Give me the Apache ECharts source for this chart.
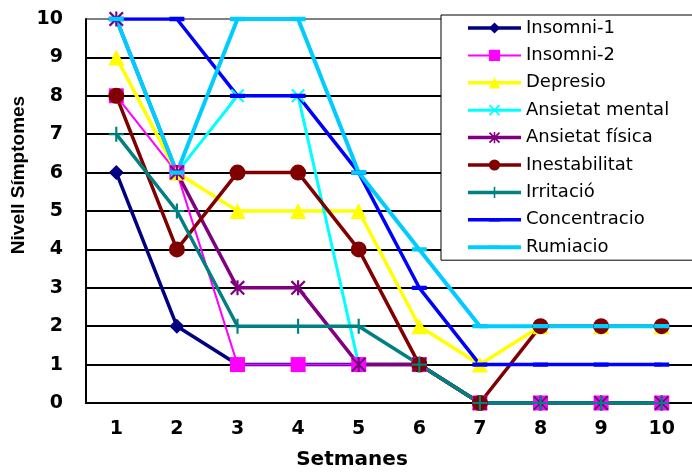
<!DOCTYPE html>
<html>
<head>
<meta charset="utf-8">
<title>Nivell Símptomes</title>
<script src="https://cdn.jsdelivr.net/npm/echarts@6/dist/echarts.min.js"></script>
<style>
  html, body { margin: 0; padding: 0; background: #fff; }
  #chart { width: 692px; height: 474px; }
</style>
</head>
<body>
<div id="chart"></div>
<script>
// Weekly symptom levels (0-10) per symptom
const weeks = ['1', '2', '3', '4', '5', '6', '7', '8', '9', '10'];
const yTicks = [0, 1, 2, 3, 4, 5, 6, 7, 8, 9, 10];

const insomni1       = [6, 2, 1, 1, 1, 1, 0, 0, 0, 0];
const insomni2       = [8, 6, 1, 1, 1, 1, 0, 0, 0, 0];
const depresio       = [9, 6, 5, 5, 5, 2, 1, 2, 2, 2];
const ansietatMental = [10, 6, 8, 8, 1, 1, 0, 0, 0, 0];
const ansietatFisica = [10, 6, 3, 3, 1, 1, 0, 0, 0, 0];
const inestabilitat  = [8, 4, 6, 6, 4, 1, 0, 2, 2, 2];
const irritacio      = [7, 5, 2, 2, 2, 1, 0, 0, 0, 0];
const concentracio   = [10, 10, 8, 8, 6, 3, 1, 1, 1, 1];
const rumiacio       = [10, 6, 10, 10, 6, 4, 2, 2, 2, 2];

// Marker shapes drawn as filled paths (14x14 box)
const MARK_X = 'path://M0,1.5L1.5,0L14,12.5L12.5,14Z M12.5,0L14,1.5L1.5,14L0,12.5Z';
const MARK_STAR = 'path://M0,1.5L1.5,0L14,12.5L12.5,14Z M12.5,0L14,1.5L1.5,14L0,12.5Z M6,0L8,0L8,14L6,14Z';
const MARK_PLUS = 'path://M6,0H8V6H14V8H8V14H6V8H0V6H6Z';
// Short horizontal dash; the zero-area first subpath keeps a square bounding box
const MARK_DASH = 'path://M0,0L0,14L0,0Z M0,5H14V9H0Z';

const chart = echarts.init(document.getElementById('chart'), null, { renderer: 'canvas' });

const seriesList = [];
const legendItems = [];

function addSeries(name, data, color, symbol, size, width) {
  seriesList.push({
    name: name,
    type: 'line',
    data: data,
    symbol: symbol,
    symbolSize: size,
    showAllSymbol: true,
    animation: false,
    lineStyle: { color: color, width: width },
    itemStyle: { color: color, borderWidth: 0 },
    emphasis: { disabled: true }
  });
  legendItems.push({ name: name, lineStyle: { width: width } });
}

addSeries('Insomni-1', insomni1, '#000080', 'diamond', 15, 3.5);
addSeries('Insomni-2', insomni2, '#FF00FF', 'rect', 15, 2);
addSeries('Depresio', depresio, '#FFFF00', 'triangle', 16, 3.5);
addSeries('Ansietat mental', ansietatMental, '#00FFFF', MARK_X, 14, 3);
addSeries('Ansietat física', ansietatFisica, '#800080', MARK_STAR, 15, 3.5);
addSeries('Inestabilitat', inestabilitat, '#800000', 'circle', 16, 3.5);
addSeries('Irritació', irritacio, '#008080', MARK_PLUS, 15, 3.5);
addSeries('Concentracio', concentracio, '#0000FF', MARK_DASH, 15, 3.5);
addSeries('Rumiacio', rumiacio, '#00CCFF', MARK_DASH, 15, 4);

const gridColors = yTicks.map(function (v) { return v === 10 ? '#808080' : '#000000'; });

chart.setOption({
  backgroundColor: '#ffffff',
  animation: false,
  grid: { left: 86, top: 19, right: -9, bottom: 71, containLabel: false },
  xAxis: {
    type: 'category',
    data: weeks,
    boundaryGap: true,
    axisLine: { show: true, lineStyle: { color: '#000', width: 2 } },
    axisTick: { show: false },
    axisLabel: {
      color: '#000', fontFamily: 'DejaVu Sans', fontWeight: 'bold', fontSize: 19, margin: 17
    },
    splitLine: { show: false }
  },
  yAxis: {
    type: 'value',
    min: 0,
    max: 10,
    interval: 1,
    axisLine: { show: true, lineStyle: { color: '#000', width: 2 } },
    axisTick: { show: false },
    axisLabel: {
      color: '#000', fontFamily: 'DejaVu Sans', fontWeight: 'bold', fontSize: 19, margin: 23
    },
    splitLine: { show: true, lineStyle: { color: gridColors, width: 2 } }
  },
  legend: {
    orient: 'vertical',
    left: 441,
    top: 15,
    padding: [4, 60, 4, 25],
    itemWidth: 53,
    itemHeight: 14,
    itemGap: 9.4,
    backgroundColor: '#ffffff',
    borderColor: '#000',
    borderWidth: 1,
    borderRadius: 0,
    selectedMode: false,
    data: legendItems,
    textStyle: { color: '#000', fontFamily: 'DejaVu Sans', fontSize: 18, lineHeight: 17 }
  },
  graphic: [
    {
      type: 'text',
      x: 19, y: 175,
      rotation: Math.PI / 2,
      style: {
        text: 'Nivell Símptomes',
        fill: '#000',
        font: 'bold 19px "Liberation Sans", Arial, sans-serif',
        textAlign: 'center',
        textVerticalAlign: 'middle'
      }
    },
    {
      type: 'text',
      x: 352, y: 460,
      style: {
        text: 'Setmanes',
        fill: '#000',
        font: 'bold 20px "DejaVu Sans", sans-serif',
        textAlign: 'center',
        textVerticalAlign: 'middle'
      }
    }
  ],
  series: seriesList
});
</script>
</body>
</html>
